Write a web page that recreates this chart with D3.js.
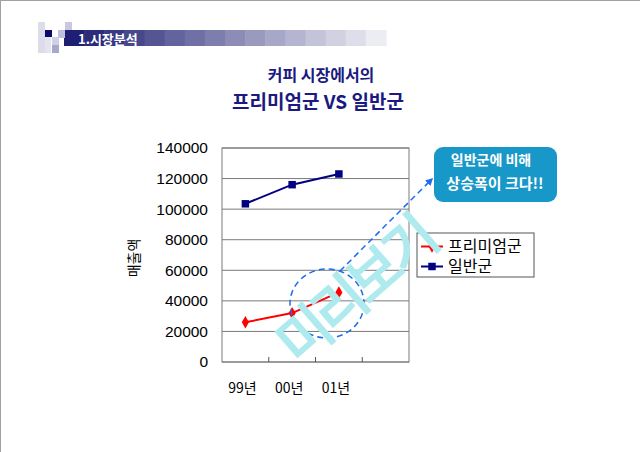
<!DOCTYPE html>
<html>
<head>
<meta charset="utf-8">
<script src="https://cdn.jsdelivr.net/npm/d3@7"></script>
<style>
  html, body { margin: 0; padding: 0; background: #fff; }
  svg { display: block; }
</style>
</head>
<body>
<svg id="chart" width="640" height="452"></svg>
<script>
// categories (4th slot is an empty band, as in the original sheet)
const categories = ['99년', '00년', '01년', ''];
const premium = [26000, 32000, 45500];   // 프리미엄군
const general = [103500, 116000, 123000]; // 일반군
const yTicks = [0, 20000, 40000, 60000, 80000, 100000, 120000, 140000];
const seriesNames = ['프리미엄군', '일반군'];

const svg = d3.select('#chart');
const KR = '"Noto Sans CJK KR", "Noto Sans", sans-serif';
const NUM = '"Liberation Sans", Arial, sans-serif';

// page frame
svg.append('rect').attr('x', 0.5).attr('y', 0.5).attr('width', 660).attr('height', 470)
  .attr('fill', 'none').attr('stroke', '#a0a0a0');

// header banner
const head = svg.append('g');
const steps = 16;
const barX0 = 64, barX1 = 386;
const shade = d3.interpolateRgb('#1e1e72', '#ececf3');
for (let i = 0; i < steps; i++) {
  const w = (barX1 - barX0) / steps;
  head.append('rect').attr('x', barX0 + i * w).attr('y', 30).attr('width', w + 0.5).attr('height', 16)
    .attr('fill', shade(i / (steps - 1)));
}
[[38, 22, 7, 31, '#dcdcea'], [45, 37, 6, 16, '#e4e4ee'], [45, 30, 7, 7, '#0a0a6e'],
 [65, 22, 7, 8, '#c8c8e0'], [58, 30, 7, 8, '#c0c0dc'], [52, 37, 7, 8, '#d0d0e4'],
 [52, 45, 7, 8, '#a8a8cc']].forEach(([x, y, w, h, c]) => {
  head.append('rect').attr('x', x).attr('y', y).attr('width', w).attr('height', h).attr('fill', c);
});
head.append('text').attr('x', 78).attr('y', 44).attr('fill', '#fff')
  .style('font-family', KR).style('font-size', '13px').style('font-weight', 'bold')
  .text('1.시장분석');

// titles
svg.append('text').attr('x', 321).attr('y', 81).attr('text-anchor', 'middle')
  .attr('fill', '#1a1a80').style('font-family', KR).style('font-size', '16px').style('font-weight', 'bold')
  .text('커피 시장에서의');
svg.append('text').attr('x', 318).attr('y', 109).attr('text-anchor', 'middle')
  .attr('fill', '#1a1a80').style('font-family', KR).style('font-size', '19px').style('font-weight', 'bold')
  .text('프리미엄군 VS 일반군');

// scales
const x = d3.scaleBand().domain(categories).range([222, 409]);
const y = d3.scaleLinear().domain([0, 140000]).range([362, 148]);
const cx = d => x(d) + x.bandwidth() / 2;

// gridlines
svg.append('g').selectAll('line').data(yTicks).join('line')
  .attr('x1', 222).attr('x2', 409)
  .attr('y1', d => y(d)).attr('y2', d => y(d))
  .attr('stroke', '#7a7a7a').attr('stroke-width', 1);

// plot frame
svg.append('rect').attr('x', 222).attr('y', y(140000)).attr('width', 187).attr('height', y(0) - y(140000))
  .attr('fill', 'none').attr('stroke', '#7a7a7a');

// category ticks (inside, pointing up)
svg.append('g').selectAll('line').data(categories.slice(1)).join('line')
  .attr('x1', d => x(d)).attr('x2', d => x(d))
  .attr('y1', y(0)).attr('y2', y(0) - 5)
  .attr('stroke', '#555');

// y axis labels
const yAxis = svg.append('g').attr('transform', 'translate(208,0)')
  .call(d3.axisLeft(y).tickValues(yTicks).tickSize(0).tickPadding(0).tickFormat(d3.format('d')));
yAxis.select('.domain').remove();
yAxis.selectAll('text').style('font-family', NUM).style('font-size', '15.5px').attr('fill', '#000');

// x labels
svg.append('g').selectAll('text').data(categories.filter(d => d)).join('text')
  .attr('x', d => cx(d) - 3).attr('y', 393).attr('text-anchor', 'middle')
  .style('font-family', KR).style('font-size', '14px').attr('fill', '#000')
  .text(d => d);

// y title
svg.append('text').attr('transform', 'translate(139,258) rotate(-90)').attr('text-anchor', 'middle')
  .style('font-family', KR).style('font-size', '14px').attr('fill', '#000')
  .text('매출액');

// lines
const line = d3.line().x((d, i) => cx(categories[i])).y(d => y(d));
svg.append('path').datum(general).attr('d', line)
  .attr('fill', 'none').attr('stroke', '#000080').attr('stroke-width', 2);
svg.append('path').datum(premium).attr('d', line)
  .attr('fill', 'none').attr('stroke', '#ff0000').attr('stroke-width', 2);

const square = d3.symbol().type(d3.symbolSquare).size(56);
const diamond = d3.symbol().type(d3.symbolDiamond).size(44);
svg.append('g').selectAll('path').data(general).join('path')
  .attr('transform', (d, i) => `translate(${cx(categories[i])},${y(d)})`)
  .attr('d', square).attr('fill', '#000080');
svg.append('g').selectAll('path').data(premium).join('path')
  .attr('transform', (d, i) => `translate(${cx(categories[i])},${y(d)})`)
  .attr('d', diamond).attr('fill', '#ff0000');

// legend
const lg = svg.append('g');
lg.append('rect').attr('x', 417).attr('y', 233).attr('width', 117).attr('height', 44)
  .attr('fill', '#fff').attr('stroke', '#555');
const legendColors = ['#ff0000', '#000080'];
const legendSymbols = [diamond, square];
seriesNames.forEach((name, i) => {
  const ly = 246.5 + i * 20;
  lg.append('line').attr('x1', 421).attr('x2', 443).attr('y1', ly).attr('y2', ly)
    .attr('stroke', legendColors[i]).attr('stroke-width', 2);
  lg.append('path').attr('transform', `translate(432,${ly})`).attr('d', legendSymbols[i])
    .attr('fill', legendColors[i]);
  lg.append('text').attr('x', 448).attr('y', ly).attr('dy', '0.36em')
    .style('font-family', KR).style('font-size', '16px').attr('fill', '#000')
    .text(name);
});

// callout
const callBlue = '#1898c9';
svg.append('defs').append('marker').attr('id', 'arrow')
  .attr('viewBox', '0 0 10 10').attr('refX', 8).attr('refY', 5)
  .attr('markerWidth', 5).attr('markerHeight', 5).attr('orient', 'auto')
  .append('path').attr('d', 'M0,0L10,5L0,10z').attr('fill', '#1e6cf0');
svg.append('ellipse').attr('cx', 327).attr('cy', 303.5).attr('rx', 37).attr('ry', 34.5)
  .attr('fill', 'none').attr('stroke', '#1e6cf0').attr('stroke-width', 1.5).attr('stroke-dasharray', '6,4');
svg.append('line').attr('x1', 340).attr('y1', 271).attr('x2', 432).attr('y2', 179)
  .attr('stroke', '#1e6cf0').attr('stroke-width', 1.5).attr('stroke-dasharray', '6,4')
  .attr('marker-end', 'url(#arrow)');
svg.append('rect').attr('x', 434).attr('y', 147).attr('width', 123).attr('height', 55).attr('rx', 9)
  .attr('fill', callBlue);
svg.append('text').attr('x', 491).attr('y', 165).attr('text-anchor', 'middle').attr('fill', '#fff')
  .style('font-family', KR).style('font-size', '14px').style('font-weight', 'bold')
  .text('일반군에 비해');
svg.append('text').attr('x', 495).attr('y', 189).attr('text-anchor', 'middle').attr('fill', '#fff')
  .style('font-family', KR).style('font-size', '15px').style('font-weight', 'bold')
  .text('상승폭이 크다!!');

// watermark
svg.append('text').attr('transform', 'translate(356,291) rotate(-41)').attr('text-anchor', 'middle')
  .attr('dy', '0.35em').attr('fill', '#aeeaee').attr('stroke', '#aeeaee').attr('stroke-width', 2)
  .style('font-family', KR).style('font-size', '56px')
  .style('letter-spacing', '-5px')
  .text('미리보기');
</script>
</body>
</html>
